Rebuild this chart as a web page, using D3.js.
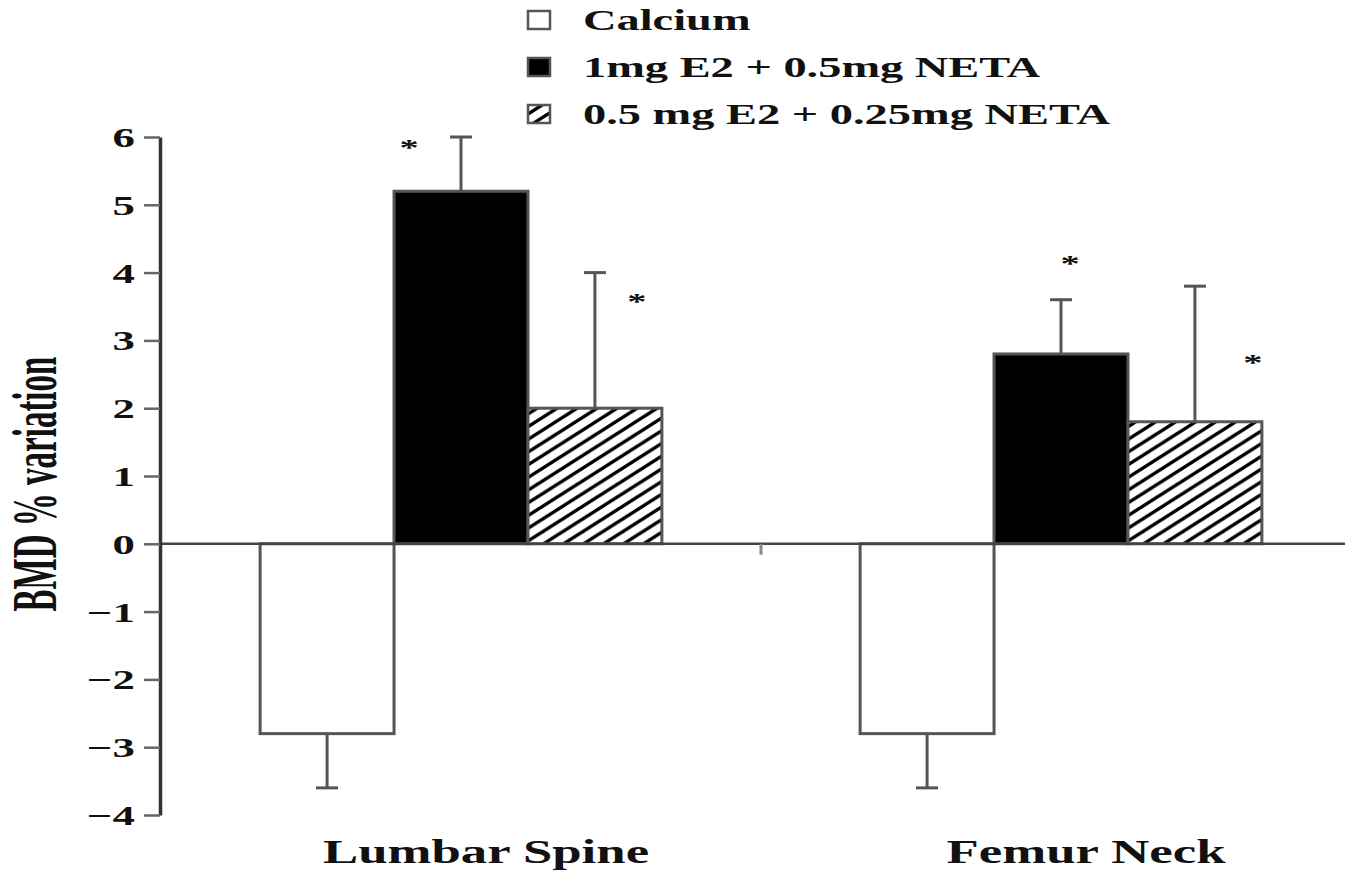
<!DOCTYPE html>
<html>
<head>
<meta charset="utf-8">
<script src="https://cdn.jsdelivr.net/npm/d3@7/dist/d3.min.js"></script>
<style>
  html, body { margin: 0; padding: 0; background: #fff; }
  text { font-family: "Liberation Serif", "Times New Roman", serif; font-weight: bold; fill: #111; }
</style>
</head>
<body>
<svg id="chart" width="1345" height="872"></svg>
<script>
// Bone mineral density change by site and treatment group
const categories = ["Lumbar Spine", "Femur Neck"];
const series = ["Calcium", "1mg E2 + 0.5mg NETA", "0.5 mg E2 + 0.25mg NETA"];
const calciumValues = [-2.8, -2.8];
const highDoseValues = [5.2, 2.8];
const lowDoseValues = [2.0, 1.8];
const calciumErrors = [0.8, 0.8];
const highDoseErrors = [0.8, 0.8];
const lowDoseErrors = [2.0, 2.0];
const yTicks = [-4, -3, -2, -1, 0, 1, 2, 3, 4, 5, 6];
const yLabel = "BMD % variation";
// bars flagged as significant: [category index, series index]
const significant = [[0, 1], [0, 2], [1, 1], [1, 2]];

const seriesValues = [calciumValues, highDoseValues, lowDoseValues];
const seriesErrors = [calciumErrors, highDoseErrors, lowDoseErrors];

const svg = d3.select("#chart");
const W = 1345;
const SX = 1.6; // horizontal text stretch

const defs = svg.append("defs");
const hatch = defs.append("pattern")
  .attr("id", "hatch")
  .attr("patternUnits", "userSpaceOnUse")
  .attr("width", 20).attr("height", 12.7);
hatch.append("rect").attr("width", 20).attr("height", 12.7).attr("fill", "#fff");
hatch.append("path")
  .attr("d", "M-10,6.35 L10,-6.35 M0,12.7 L20,0 M10,19.05 L30,6.35")
  .attr("stroke", "#000").attr("stroke-width", 3.4);

const fills = ["#fff", "#000", "url(#hatch)"];

const y = d3.scaleLinear().domain([-4, 6]).range([815, 137]);
const x0 = d3.scaleBand().domain(categories).range([161, 1361]);
const x1 = d3.scaleBand().domain(series).range([0, x0.bandwidth()]).paddingOuter(0.74);

const rows = [];
categories.forEach((c, ci) => {
  series.forEach((s, si) => {
    rows.push({ c, ci, s, si, v: seriesValues[si][ci], e: seriesErrors[si][ci] });
  });
});

// error bars (drawn away from zero)
const err = svg.append("g").attr("stroke", "#555").attr("stroke-width", 3).attr("fill", "none");
rows.forEach(d => {
  const cx = x0(d.c) + x1(d.s) + x1.bandwidth() / 2;
  const tip = d.v >= 0 ? d.v + d.e : d.v - d.e;
  err.append("line").attr("x1", cx).attr("x2", cx).attr("y1", y(d.v)).attr("y2", y(tip));
  err.append("line").attr("x1", cx - 11).attr("x2", cx + 11).attr("y1", y(tip)).attr("y2", y(tip));
});

// bars
svg.append("g").selectAll("rect").data(rows).join("rect")
  .attr("x", d => x0(d.c) + x1(d.s))
  .attr("width", x1.bandwidth())
  .attr("y", d => y(Math.max(0, d.v)))
  .attr("height", d => Math.abs(y(d.v) - y(0)))
  .attr("fill", d => fills[d.si])
  .attr("stroke", "#555")
  .attr("stroke-width", 3);

// zero line and category separator
svg.append("line").attr("x1", 160).attr("x2", W).attr("y1", y(0)).attr("y2", y(0))
  .attr("stroke", "#444").attr("stroke-width", 2.5);
categories.slice(1).forEach(c => {
  svg.append("line").attr("x1", x0(c)).attr("x2", x0(c)).attr("y1", y(0)).attr("y2", y(0) + 11)
    .attr("stroke", "#888").attr("stroke-width", 3);
});

// y axis
const yAxis = svg.append("g").attr("transform", "translate(160,0)")
  .call(d3.axisLeft(y).tickValues(yTicks).tickSize(16).tickSizeOuter(0));
yAxis.select(".domain").attr("stroke", "#333").attr("stroke-width", 3.5);
yAxis.selectAll(".tick line").attr("stroke", "#666").attr("stroke-width", 2.5);
yAxis.selectAll(".tick text")
  .attr("x", null).attr("dy", "0.34em")
  .attr("transform", `translate(-25,0) scale(${SX},1)`)
  .attr("text-anchor", "end")
  .style("font-size", "28px")
  .style("font-family", "'Liberation Serif', serif")
  .style("font-weight", "bold")
  .attr("fill", "#111");

// y axis title
svg.append("text")
  .attr("transform", `translate(56,484) scale(1.9,1) rotate(-90)`)
  .attr("text-anchor", "middle")
  .style("font-size", "33px")
  .text(yLabel);

// category labels
categories.forEach(c => {
  svg.append("text")
    .attr("transform", `translate(${x0(c) + x0.bandwidth() / 2 + 25},863) scale(${SX},1)`)
    .attr("text-anchor", "middle")
    .style("font-size", "33px")
    .text(c);
});

// significance markers: offset from bar centre (px) and height in axis units
const starPlacement = { "0-1": [-52, 5.9], "0-2": [42, 3.64], "1-1": [9, 4.2], "1-2": [58, 2.73] };
significant.forEach(([ci, si]) => {
  const c = categories[ci], s = series[si];
  const [dx, lvl] = starPlacement[ci + "-" + si];
  const cx = x0(c) + x1(s) + x1.bandwidth() / 2 + dx;
  svg.append("text")
    .attr("transform", `translate(${cx},${y(lvl) + 11.5}) scale(${SX},1)`)
    .attr("text-anchor", "middle")
    .style("font-size", "24px")
    .text("*");
});

// legend
const legend = svg.append("g").attr("transform", "translate(528,0)");
series.forEach((s, i) => {
  const row = legend.append("g").attr("transform", `translate(0,${20 + i * 47})`);
  row.append("rect").attr("x", 0).attr("y", -9).attr("width", 22).attr("height", 18)
    .attr("fill", fills[i]).attr("stroke", "#555").attr("stroke-width", 2.5);
  row.append("text")
    .attr("transform", `translate(55,10) scale(${SX},1)`)
    .style("font-size", "29px")
    .text(s);
});
</script>
</body>
</html>
